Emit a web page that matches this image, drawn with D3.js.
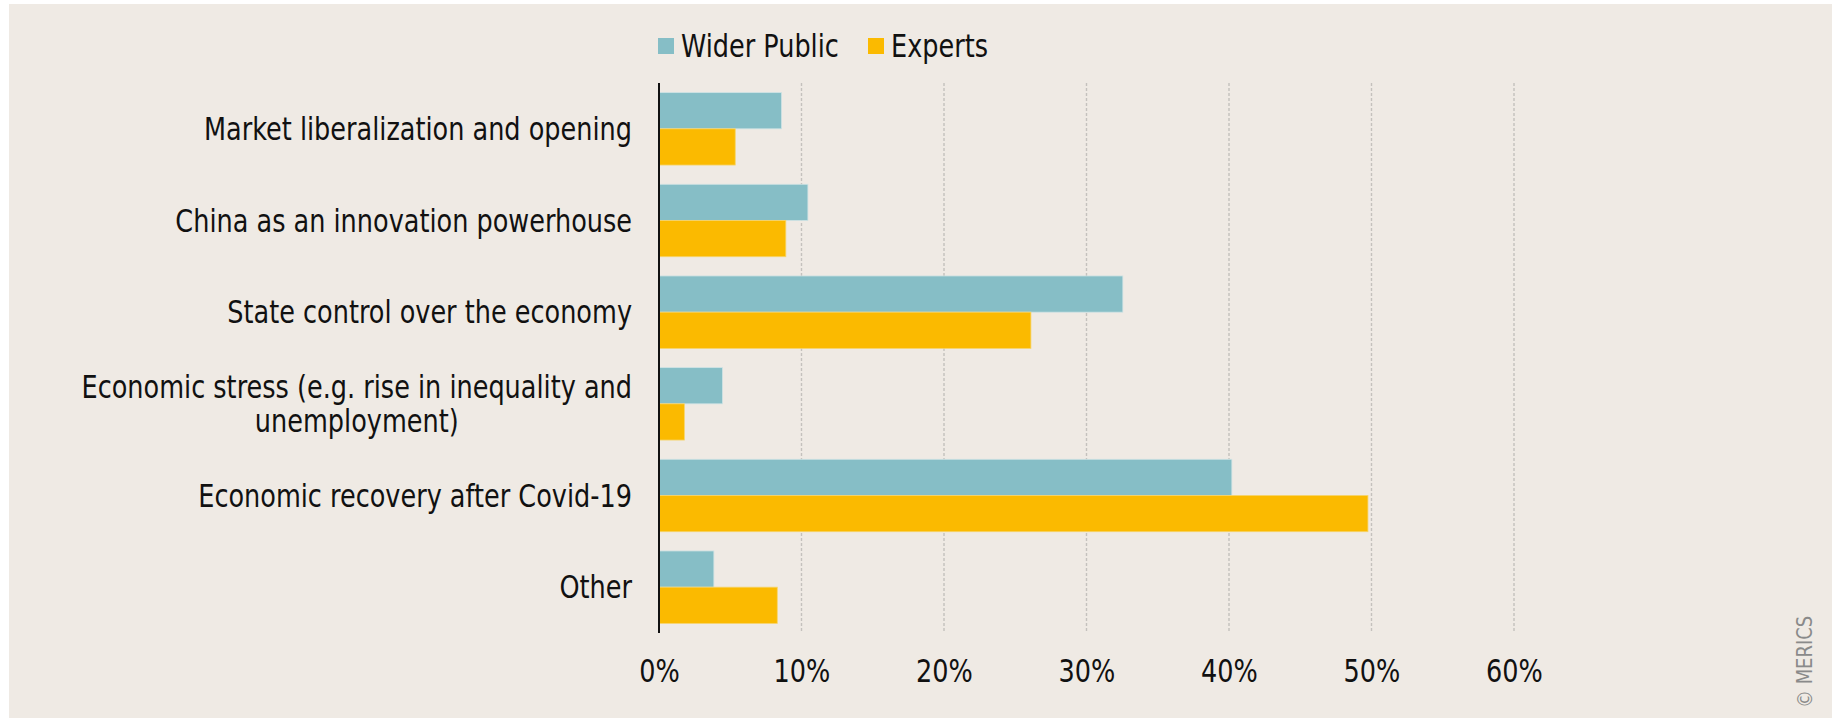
<!DOCTYPE html>
<html lang="en">
<head>
<meta charset="utf-8">
<title>Economic topics</title>
<style>
  body { margin: 0; background: #fff; }
  svg { display: block; }
  text { font-family: "DejaVu Sans Condensed", "DejaVu Sans", sans-serif; fill: #111; }
</style>
</head>
<body>
<svg id="chart" width="1837" height="721"></svg>
<script src="https://d3js.org/d3.v7.min.js"></script>
<script>
// data
const categories = [
  "Market liberalization and opening",
  "China as an innovation powerhouse",
  "State control over the economy",
  "Economic stress (e.g. rise in inequality and|unemployment)",
  "Economic recovery after Covid-19",
  "Other"
];
const seriesNames = ["Wider Public", "Experts"];
const widerPublic = [8.6, 10.45, 32.55, 4.45, 40.2, 3.85];
const experts = [5.35, 8.9, 26.1, 1.78, 49.75, 8.3];
const tickValues = [0, 10, 20, 30, 40, 50, 60];
const colors = ["#86bec6", "#fbba00"];

const svg = d3.select("#chart");
const margin = {left: 659, top: 83, right: 1837 - 1514, bottom: 721 - 633};
const width = 1837, height = 721;
const fontSize = 32;

// the original uses a narrow DIN-like face; squeeze our font to the same width
const probe = svg.append("text").style("font-size", fontSize + "px").text(categories[0]);
const squeeze = 428 / probe.node().getComputedTextLength();
probe.remove();

// background panel
svg.append("rect")
  .attr("x", 9).attr("y", 4)
  .attr("width", 1832 - 9).attr("height", 718 - 4)
  .attr("fill", "#efeae4");

const x = d3.scaleLinear()
  .domain([0, 60])
  .range([margin.left, width - margin.right]);

const y = d3.scaleBand()
  .domain(categories)
  .range([margin.top, height - margin.bottom])
  .paddingInner(0.21)
  .paddingOuter(0.105);

const ySub = d3.scaleBand()
  .domain(seriesNames)
  .range([0, y.bandwidth()]);

// gridlines
svg.append("g")
  .selectAll("line")
  .data(tickValues.filter(d => d > 0))
  .join("line")
  .attr("x1", d => x(d)).attr("x2", d => x(d))
  .attr("y1", margin.top).attr("y2", height - margin.bottom)
  .attr("stroke", "#c4c1bd")
  .attr("stroke-width", 1.4)
  .attr("stroke-dasharray", "3,2");

// bars
const rows = categories.map((c, i) => ({cat: c, vals: [widerPublic[i], experts[i]]}));
const groups = svg.append("g")
  .selectAll("g")
  .data(rows)
  .join("g")
  .attr("transform", d => `translate(0,${y(d.cat)})`);

groups.selectAll("rect")
  .data(d => d.vals.map((v, j) => ({name: seriesNames[j], v: v, j: j})))
  .join("rect")
  .attr("x", x(0))
  .attr("y", d => ySub(d.name))
  .attr("width", d => x(d.v) - x(0))
  .attr("height", ySub.bandwidth())
  .attr("fill", d => colors[d.j])
  .attr("stroke", d => d.j === 0 ? "#cfe3e4" : "#f6d46a")
  .attr("stroke-width", 0.8);

// axis line
svg.append("line")
  .attr("x1", x(0)).attr("x2", x(0))
  .attr("y1", margin.top).attr("y2", height - margin.bottom)
  .attr("stroke", "#111")
  .attr("stroke-width", 2);

// x tick labels
const xAxis = d3.axisBottom(x)
  .tickValues(tickValues)
  .tickFormat(d => d + "%")
  .tickSize(0)
  .tickPadding(0);
const gx = svg.append("g")
  .attr("transform", `translate(0,${height - margin.bottom})`)
  .call(xAxis);
gx.select(".domain").remove();
gx.selectAll("text")
  .attr("dy", null)
  .attr("y", 49)
  .attr("transform", `scale(${squeeze},1)`)
  .style("font-size", fontSize + "px")
  .style("font-family", "'DejaVu Sans Condensed', 'DejaVu Sans', sans-serif")
  .attr("fill", "#111");

// category labels (multi-line ones centred under each other)
const labelRight = 632;
categories.forEach(c => {
  const lines = c.split("|");
  const cy = y(c) + y.bandwidth() / 2;
  const t = svg.append("text")
    .style("font-size", fontSize + "px")
    .attr("transform", `translate(${labelRight},${cy}) scale(${squeeze},1)`);
  if (lines.length === 1) {
    t.attr("text-anchor", "end").attr("x", 0).attr("y", 0).attr("dy", "0.35em").text(c);
  } else {
    const lh = 34;
    t.attr("text-anchor", "middle");
    lines.forEach((l, k) => {
      t.append("tspan")
        .attr("x", 0)
        .attr("y", (k - (lines.length - 1) / 2) * lh)
        .attr("dy", "0.35em")
        .text(l);
    });
    const w = t.node().getBBox().width;
    t.selectAll("tspan").attr("x", -w / 2);
  }
});

// legend
const legend = svg.append("g").attr("transform", "translate(658,38)");
const legendX = [0, 210];
seriesNames.forEach((name, i) => {
  legend.append("rect")
    .attr("x", legendX[i]).attr("y", 0)
    .attr("width", 16).attr("height", 16)
    .attr("fill", colors[i]);
  legend.append("text")
    .attr("transform", `translate(${legendX[i] + 23},8) scale(${squeeze},1)`)
    .attr("dy", "0.35em")
    .style("font-size", fontSize + "px")
    .text(name);
});

// credit
svg.append("text")
  .attr("transform", "translate(1812,708) rotate(-90) scale(0.95,1)")
  .style("font-size", "21px")
  .style("font-weight", "300")
  .style("fill", "#8a8a8a")
  .text("© MERICS");
</script>
</body>
</html>
